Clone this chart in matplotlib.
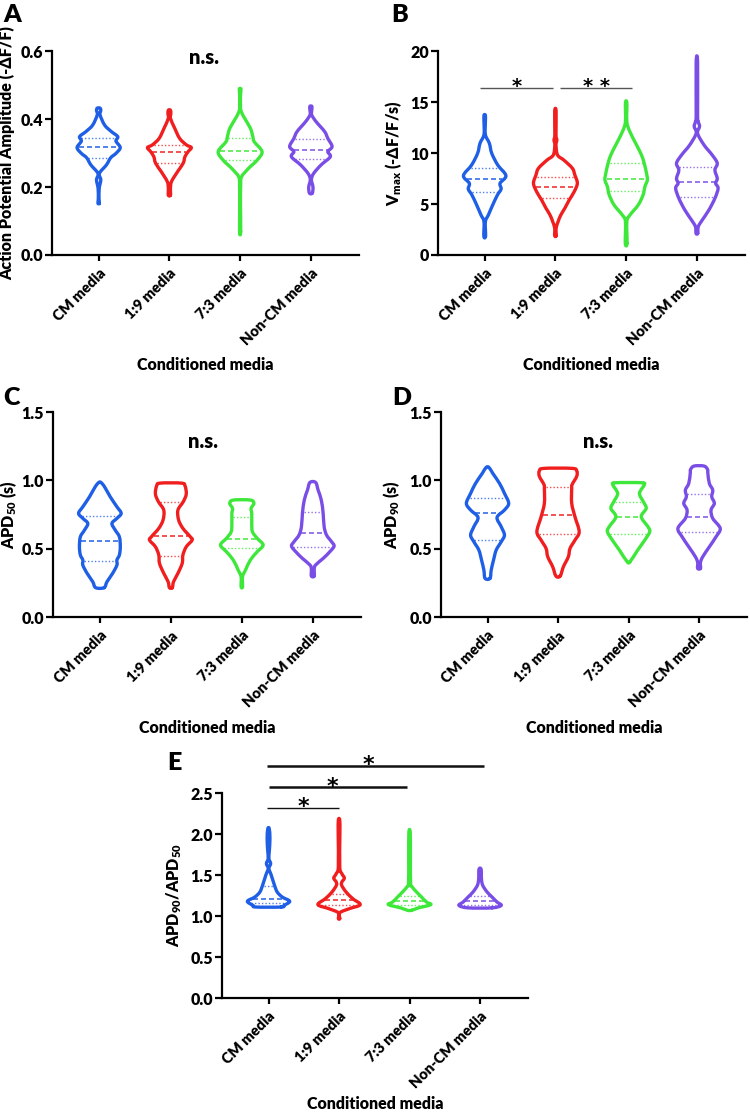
import numpy as np
import matplotlib
matplotlib.use("Agg")
import matplotlib.pyplot as plt
from matplotlib.path import Path
from matplotlib.patches import PathPatch

W = 'heavy'
plt.rcParams['font.family'] = ['Lato', 'DejaVu Sans']
plt.rcParams['font.weight'] = W
plt.rcParams['mathtext.fontset'] = 'custom'
plt.rcParams['mathtext.rm'] = 'Lato:heavy'
plt.rcParams['mathtext.it'] = 'Lato:heavy'
plt.rcParams['mathtext.bf'] = 'Lato:heavy'

categories = ["CM media", "1:9 media", "7:3 media", "Non-CM media"]
colors = ["#1f5fe6", "#f01e1e", "#3ee83a", "#7a4ee6"]

# ---- Panel A: action potential amplitude (violin outline levels / half-widths) ----
amp_levels = [
    [0.432, 0.425, 0.412, 0.382, 0.363, 0.348, 0.335, 0.316, 0.299, 0.286, 0.265, 0.240, 0.221, 0.196, 0.165, 0.152],
    [0.426, 0.415, 0.402, 0.373, 0.343, 0.324, 0.316, 0.304, 0.289, 0.270, 0.245, 0.216, 0.196, 0.176],
    [0.488, 0.470, 0.440, 0.426, 0.407, 0.373, 0.348, 0.333, 0.304, 0.279, 0.255, 0.230, 0.206, 0.150, 0.069],
    [0.437, 0.425, 0.412, 0.392, 0.363, 0.343, 0.319, 0.304, 0.289, 0.265, 0.240, 0.222, 0.200, 0.182],
]
amp_widths = [
    [0.02, 0.03, 0.02, 0.085, 0.18, 0.27, 0.245, 0.305, 0.245, 0.17, 0.11, 0.01, 0.03, 0.008, 0.005, 0.01],
    [0.015, 0.02, 0.015, 0.075, 0.145, 0.24, 0.31, 0.265, 0.22, 0.195, 0.115, 0.03, 0.015, 0.015],
    [0.012, 0.005, 0.005, 0.01, 0.05, 0.145, 0.18, 0.20, 0.31, 0.24, 0.12, 0.02, 0.008, 0.005, 0.008],
    [0.015, 0.012, 0.012, 0.075, 0.195, 0.24, 0.30, 0.24, 0.275, 0.145, 0.04, 0.008, 0.03, 0.02],
]
amp_quart = [[0.286, 0.318, 0.345], [0.270, 0.302, 0.325], [0.279, 0.307, 0.343], [0.282, 0.309, 0.340]]

# ---- Panel B: Vmax ----
vmax_levels = [
    [13.7, 13.07, 11.8, 10.95, 9.97, 8.82, 7.78, 7.03, 6.47, 5.88, 4.9, 3.92, 3.27, 1.85],
    [14.1, 11.8, 11.27, 10.8, 9.8, 9.3, 8.5, 7.84, 7.03, 6.2, 5.39, 4.57, 3.92, 3.27, 2.62, 1.9],
    [14.9, 13.07, 12.1, 10.8, 9.8, 9.0, 8.0, 7.35, 6.7, 5.9, 4.9, 3.9, 3.27, 1.15],
    [18.9, 13.7, 13.07, 12.6, 11.93, 10.8, 9.8, 9.0, 8.33, 7.5, 7.03, 6.54, 5.56, 4.41, 3.43, 2.78, 2.12],
]
vmax_widths = [
    [0.01, 0.01, 0.01, 0.066, 0.10, 0.185, 0.30, 0.217, 0.232, 0.18, 0.113, 0.052, 0.01, 0.012],
    [0.01, 0.008, 0.02, 0.008, 0.03, 0.12, 0.24, 0.275, 0.31, 0.265, 0.195, 0.132, 0.076, 0.038, 0.01, 0.01],
    [0.01, 0.01, 0.052, 0.146, 0.217, 0.255, 0.288, 0.30, 0.265, 0.24, 0.17, 0.052, 0.01, 0.012],
    [0.01, 0.01, 0.02, 0.038, 0.01, 0.10, 0.217, 0.288, 0.255, 0.288, 0.265, 0.30, 0.255, 0.17, 0.076, 0.02, 0.012],
]
vmax_quart = [[6.14, 7.48, 8.56], [5.56, 6.67, 7.68], [6.24, 7.48, 9.0], [5.72, 7.16, 8.6]]

# ---- Panel C: APD50 ----
apd50_levels = [
    [0.985, 0.953, 0.88, 0.807, 0.759, 0.722, 0.685, 0.636, 0.587, 0.514, 0.454, 0.417, 0.38, 0.32, 0.258, 0.215],
    [0.98, 0.96, 0.90, 0.844, 0.783, 0.71, 0.649, 0.587, 0.563, 0.514, 0.454, 0.393, 0.32, 0.258, 0.215],
    [0.856, 0.832, 0.795, 0.759, 0.685, 0.624, 0.576, 0.527, 0.478, 0.417, 0.344, 0.295, 0.222],
    [0.985, 0.929, 0.856, 0.759, 0.661, 0.60, 0.551, 0.519, 0.478, 0.429, 0.38, 0.35, 0.30],
]
apd50_widths = [
    [0.015, 0.066, 0.146, 0.24, 0.30, 0.24, 0.17, 0.217, 0.275, 0.288, 0.275, 0.24, 0.24, 0.18, 0.10, 0.06],
    [0.15, 0.20, 0.217, 0.175, 0.10, 0.11, 0.17, 0.275, 0.30, 0.217, 0.17, 0.16, 0.10, 0.038, 0.02],
    [0.12, 0.17, 0.13, 0.14, 0.14, 0.15, 0.217, 0.30, 0.217, 0.12, 0.052, 0.01, 0.01],
    [0.04, 0.075, 0.12, 0.146, 0.16, 0.194, 0.265, 0.30, 0.24, 0.146, 0.038, 0.02, 0.02],
]
apd50_quart = [[0.41, 0.556, 0.741], [0.449, 0.595, 0.839], [0.507, 0.571, 0.729], [0.514, 0.614, 0.766]]

# ---- Panel D: APD90 ----
apd90_levels = [
    [1.095, 1.051, 0.978, 0.905, 0.832, 0.783, 0.729, 0.661, 0.60, 0.551, 0.49, 0.417, 0.344, 0.283],
    [1.088, 1.07, 1.03, 0.97, 0.941, 0.832, 0.734, 0.624, 0.563, 0.502, 0.441, 0.368, 0.30],
    [0.983, 0.97, 0.905, 0.844, 0.795, 0.734, 0.661, 0.624, 0.563, 0.49, 0.405],
    [1.105, 1.08, 1.051, 0.978, 0.929, 0.88, 0.832, 0.783, 0.722, 0.649, 0.587, 0.514, 0.441, 0.40, 0.356],
]
apd90_widths = [
    [0.02, 0.075, 0.17, 0.24, 0.30, 0.24, 0.135, 0.194, 0.24, 0.194, 0.123, 0.085, 0.052, 0.035],
    [0.20, 0.265, 0.265, 0.20, 0.194, 0.194, 0.24, 0.30, 0.24, 0.17, 0.146, 0.076, 0.03],
    [0.18, 0.225, 0.155, 0.21, 0.25, 0.18, 0.275, 0.30, 0.23, 0.13, 0.02],
    [0.07, 0.12, 0.125, 0.146, 0.194, 0.18, 0.217, 0.17, 0.194, 0.30, 0.24, 0.146, 0.052, 0.02, 0.02],
]
apd90_quart = [[0.563, 0.759, 0.873], [0.607, 0.744, 0.953], [0.607, 0.734, 0.844], [0.624, 0.734, 0.90]]

# ---- Panel E: APD90/APD50 ----
ratio_levels = [
    [2.066, 1.95, 1.80, 1.70, 1.64, 1.58, 1.50, 1.374, 1.293, 1.232, 1.18, 1.13, 1.11],
    [2.17, 2.0, 1.60, 1.517, 1.463, 1.415, 1.374, 1.293, 1.212, 1.139, 1.09, 1.04, 0.97],
    [2.017, 1.70, 1.40, 1.354, 1.293, 1.232, 1.171, 1.139, 1.098, 1.07],
    [1.57, 1.45, 1.374, 1.293, 1.232, 1.171, 1.13, 1.10],
]
ratio_widths = [
    [0.01, 0.02, 0.012, 0.005, 0.03, 0.005, 0.038, 0.085, 0.123, 0.194, 0.30, 0.22, 0.18],
    [0.01, 0.012, 0.01, 0.04, 0.075, 0.04, 0.038, 0.10, 0.194, 0.30, 0.146, 0.01, 0.01],
    [0.01, 0.012, 0.015, 0.038, 0.10, 0.17, 0.24, 0.30, 0.12, 0.03],
    [0.015, 0.02, 0.038, 0.10, 0.17, 0.24, 0.30, 0.17],
]
ratio_quart = [[1.163, 1.21, 1.366], [1.13, 1.19, 1.27], [1.14, 1.18, 1.244], [1.13, 1.18, 1.24]]

# significance annotations: (bar start, bar end, bar height, star x, label)
vmax_sig = [(-0.07, 0.96, 16.4, 0.45, "*"), (1.07, 2.08, 16.4, 1.58, "* *")]
ratio_sig = [(-0.02, 1.0, 2.32, 0.50, "*"), (0.0, 1.96, 2.57, 0.90, "*"), (-0.02, 3.05, 2.83, 1.41, "*")]


def smooth_closed_path(xs, ys):
    pts = np.column_stack([xs, ys])
    n = len(pts)
    verts = [pts[0]]
    codes = [Path.MOVETO]
    for i in range(n):
        p0 = pts[(i - 1) % n]
        p1 = pts[i]
        p2 = pts[(i + 1) % n]
        p3 = pts[(i + 2) % n]
        c1 = p1 + (p2 - p0) / 6.0
        c2 = p2 - (p3 - p1) / 6.0
        verts += [c1, c2, p2]
        codes += [Path.CURVE4] * 3
    return Path(verts, codes)


def draw_violins(ax, levels, widths, quarts):
    for i, (lv, wd, q) in enumerate(zip(levels, widths, quarts)):
        lv = np.asarray(lv, float)
        wd = np.asarray(wd, float)
        order = np.argsort(lv)
        y = lv[order]
        w = wd[order]
        xs = np.concatenate([i + w, (i - w)[::-1]])
        ys = np.concatenate([y, y[::-1]])
        path = smooth_closed_path(xs, ys)
        ax.add_patch(PathPatch(path, fill=False, lw=2.4, ec=colors[i],
                               joinstyle='round', capstyle='round'))
        for k, qv in enumerate(q):
            hw = max(np.interp(qv, y, w) - 0.02, 0.01)
            if k == 1:
                ax.plot([i - hw, i + hw], [qv, qv], color=colors[i], lw=1.2,
                        dashes=(3, 1.8), alpha=0.9)
            else:
                ax.plot([i - hw, i + hw], [qv, qv], color=colors[i], lw=1.0,
                        dashes=(1, 1.5), alpha=0.8)


def style(ax, ylim, yticks, yticklabels, ylabel, ylab_x, xlab_y=-0.50):
    ax.set_xlim(-0.66, 3.68)
    ax.set_ylim(*ylim)
    for s in ['top', 'right']:
        ax.spines[s].set_visible(False)
    for s in ['left', 'bottom']:
        ax.spines[s].set_linewidth(1.6)
    ax.set_yticks(yticks)
    ax.set_yticklabels(yticklabels, fontsize=11.5, fontweight=W)
    ax.set_xticks(range(len(categories)))
    ax.set_xticklabels(categories, rotation=45, ha='right', va='top',
                       rotation_mode='anchor', fontsize=10.6, fontweight=W)
    ax.tick_params(axis='y', width=1.6, length=5, pad=1.5)
    ax.tick_params(axis='x', width=1.6, length=4.5, pad=4)
    ax.set_ylabel(ylabel, fontsize=11.5, fontweight=W)
    ax.yaxis.set_label_coords(ylab_x, 0.5)
    ax.set_xlabel("Conditioned media", fontsize=11.5, fontweight=W)
    ax.xaxis.set_label_coords(0.5, xlab_y)


def add_sig(ax, sigs, lw_list, color, fs, off):
    for (a, b, yv, sx, txt), lw in zip(sigs, lw_list):
        ax.plot([a, b], [yv, yv], color=color, lw=lw, clip_on=False,
                solid_capstyle='butt')
        ax.annotate(txt, xy=(sx, yv), xytext=(0, off), textcoords='offset points',
                    ha='center', va='baseline', fontsize=fs, fontweight='bold',
                    family='DejaVu Sans', annotation_clip=False)


fig = plt.figure(figsize=(7.5, 11.14), dpi=100)

axA = fig.add_axes([0.0693, 0.7711, 0.4093, 0.1831])
axB = fig.add_axes([0.584, 0.7711, 0.4093, 0.1831])
axC = fig.add_axes([0.0707, 0.4461, 0.4107, 0.1840])
axD = fig.add_axes([0.588, 0.4461, 0.408, 0.1840])
axE = fig.add_axes([0.296, 0.1041, 0.408, 0.1840])

draw_violins(axA, amp_levels, amp_widths, amp_quart)
style(axA, (0, 0.6), [0, 0.2, 0.4, 0.6], ["0.0", "0.2", "0.4", "0.6"],
      "Action Potential Amplitude (-\u0394F/F)", -0.12)
axA.text(1.49, 0.562, "n.s.", ha='center', va='baseline', fontsize=14.5, fontweight=W)

draw_violins(axB, vmax_levels, vmax_widths, vmax_quart)
style(axB, (0, 20), [0, 5, 10, 15, 20], ["0", "5", "10", "15", "20"],
      "V$_{\\rm max}$ (-\u0394F/F/s)", -0.11)
add_sig(axB, vmax_sig, [1.0, 1.0], '#555555', 14, -3.2)

draw_violins(axC, apd50_levels, apd50_widths, apd50_quart)
style(axC, (0, 1.5), [0, 0.5, 1.0, 1.5], ["0.0", "0.5", "1.0", "1.5"],
      "APD$_{50}$ (s)", -0.11)
axC.text(1.46, 1.236, "n.s.", ha='center', va='baseline', fontsize=14.5, fontweight=W)

draw_violins(axD, apd90_levels, apd90_widths, apd90_quart)
style(axD, (0, 1.5), [0, 0.5, 1.0, 1.5], ["0.0", "0.5", "1.0", "1.5"],
      "APD$_{90}$ (s)", -0.127)
axD.text(1.56, 1.236, "n.s.", ha='center', va='baseline', fontsize=14.5, fontweight=W)

draw_violins(axE, ratio_levels, ratio_widths, ratio_quart)
style(axE, (0, 2.5), [0, 0.5, 1.0, 1.5, 2.0, 2.5], ["0.0", "0.5", "1.0", "1.5", "2.0", "2.5"],
      "APD$_{90}$/APD$_{50}$", -0.124, xlab_y=-0.48)
add_sig(axE, ratio_sig, [1.0, 1.8, 1.8], '#111111', 16, -3.8)

for letter, px, py in [("A", 3, 4), ("B", 391, 4), ("C", 3, 387), ("D", 392, 387), ("E", 167, 752)]:
    fig.text(px / 750.0, 1 - py / 1114.0, letter, ha='left', va='top',
             fontsize=18, fontweight=W)

fig.savefig("out.png", dpi=100)
